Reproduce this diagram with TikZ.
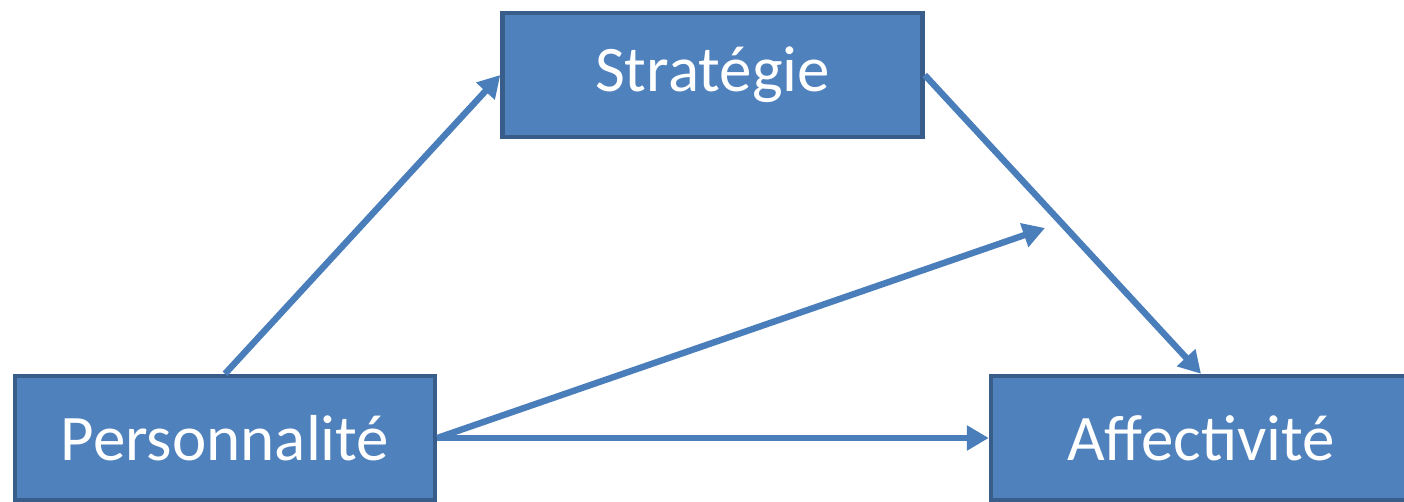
\documentclass[tikz,border=0pt]{standalone}
\usepackage{fontspec}
\setmainfont{Carlito}
\usetikzlibrary{arrows.meta}

\definecolor{boxfill}{HTML}{4F81BD}
\definecolor{boxline}{HTML}{385D8A}
\definecolor{arrowblue}{HTML}{4A7EBB}

\tikzset{
  factor/.style={draw=boxline,line width=2.2pt,fill=boxfill,text=white,
    minimum width=210pt,minimum height=62pt,inner sep=0pt,
    font=\fontsize{32.5}{38}\selectfont},
  link/.style={draw=arrowblue,line width=3.2pt,
    -{Triangle[length=11pt,width=12pt]}}
}

\begin{document}
\begin{tikzpicture}[x=0.5pt,y=-0.5pt]

\useasboundingbox (0,0) rectangle (1404,502);

\node[factor] (strat) at (712.5,75) {Stratégie};
\node[factor] (pers) at (225,438) {Personnalité};
\node[factor] (aff) at (1201,438) {Affectivité};

\coordinate (mid) at (1045,228);

\draw[link] (pers.north) -- (strat.west);
\draw[link] (strat.east) -- (aff.north);
\draw[link] (pers.east) -- (mid);
\draw[link] (pers.east) -- (aff.west);

\end{tikzpicture}
\end{document}
